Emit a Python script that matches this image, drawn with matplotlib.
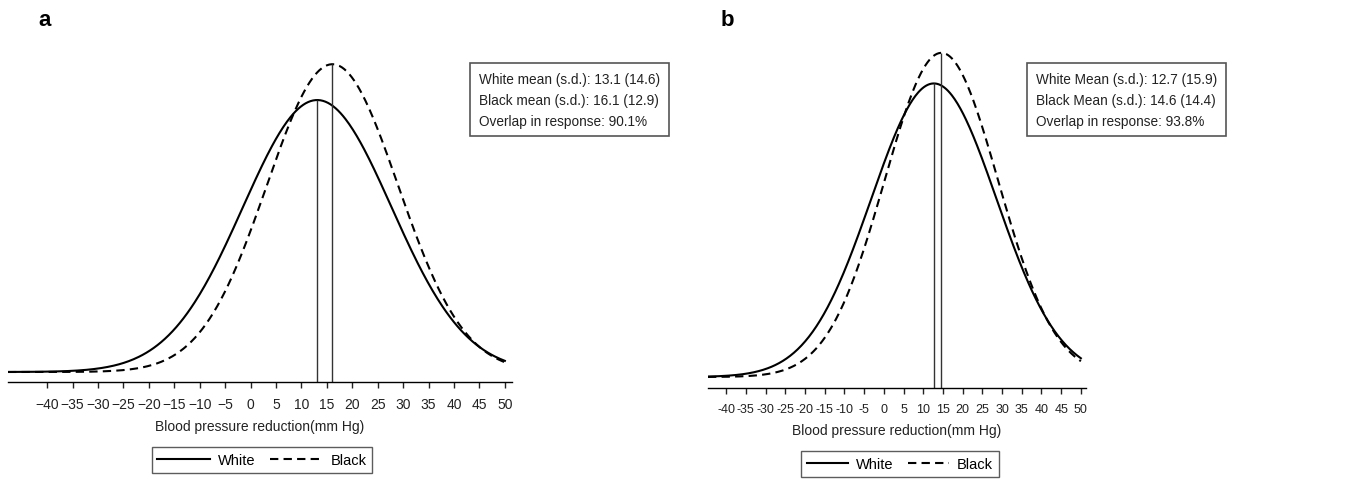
import numpy as np
import matplotlib.pyplot as plt
from matplotlib.lines import Line2D

plt.rcParams['font.family'] = ['Liberation Sans', 'DejaVu Sans']

# values printed on the chart
panel_labels = ["a", "b"]
white_mean = [13.1, 12.7]
white_sd = [14.6, 15.9]
black_mean = [16.1, 14.6]
black_sd = [12.9, 14.4]
overlap = [90.1, 93.8]
mean_word = ["mean", "Mean"]
tick_values = list(range(-40, 55, 5))
x_end = 50

W, H = 1360, 481
fig = plt.figure(figsize=(W / 100, H / 100), dpi=100)

# pixel layout per panel: axes box (left, top, right, bottom), xlim, curve baseline px, px per density unit
layout = [
    dict(box=(8, 30, 512, 383), xlim=(-47.7, 51.4), base=373, scale=9953, minus="\u2212",
         tbox=(479, 73), leg=(262, 461), lab=(38, 21), tpad=7, lpad=5.5, hlen=3.6, tsize=10),
    dict(box=(708, 30, 1086, 389), xlim=(-44.6, 51.3), base=378, scale=11700, minus="-",
         tbox=(1036, 73), leg=(900, 465), lab=(721, 21), tpad=7, lpad=5.5, hlen=2.8, tsize=9),
]


def normal_pdf(x, mu, sd):
    return np.exp(-0.5 * ((x - mu) / sd) ** 2) / (sd * np.sqrt(2 * np.pi))


for i, lay in enumerate(layout):
    l, t, r, b = lay["box"]
    ax = fig.add_axes([l / W, 1 - b / H, (r - l) / W, (b - t) / H])
    ymin = -(b - lay["base"]) / lay["scale"]
    ymax = ymin + (b - t) / lay["scale"]
    ax.set_xlim(*lay["xlim"])
    ax.set_ylim(ymin, ymax)

    x = np.linspace(lay["xlim"][0], x_end, 400)
    ax.plot(x, normal_pdf(x, white_mean[i], white_sd[i]), color="black", lw=1.5)
    ax.plot(x, normal_pdf(x, black_mean[i], black_sd[i]), color="black", lw=1.5,
            ls=(0, (4, 2.5)))
    # mean markers
    ax.vlines(white_mean[i], ymin, normal_pdf(white_mean[i], white_mean[i], white_sd[i]),
              color="#333333", lw=1)
    ax.vlines(black_mean[i], ymin, normal_pdf(black_mean[i], black_mean[i], black_sd[i]),
              color="#333333", lw=1)

    for s in ["left", "right", "top"]:
        ax.spines[s].set_visible(False)
    ax.spines["bottom"].set_linewidth(1)
    ax.set_yticks([])
    ax.set_xticks(tick_values)
    ax.set_xticklabels([str(v).replace("-", lay["minus"]) for v in tick_values])
    ax.tick_params(axis="x", direction="out", length=4, width=1, pad=lay["tpad"],
                   labelsize=lay["tsize"], colors="#222222")
    ax.set_xlabel("Blood pressure reduction(mm Hg)", fontsize=10, labelpad=lay["lpad"],
                  color="#222222")

    txt = (f"White {mean_word[i]} (s.d.): {white_mean[i]} ({white_sd[i]})\n"
           f"Black {mean_word[i]} (s.d.): {black_mean[i]} ({black_sd[i]})\n"
           f"Overlap in response: {overlap[i]}%")
    fig.text(lay["tbox"][0] / W, 1 - lay["tbox"][1] / H, txt, fontsize=9.8, va="top",
             ha="left", linespacing=1.62, color="#222222",
             bbox=dict(boxstyle="square,pad=0.65", fc="white", ec="#555555", lw=1.2))

    handles = [Line2D([], [], color="black", lw=1.5),
               Line2D([], [], color="black", lw=1.5, ls=(0, (4, 2.5)))]
    fig.legend(handles, ["White", "Black"], loc="center",
               bbox_to_anchor=(lay["leg"][0] / W, 1 - lay["leg"][1] / H),
               ncol=2, prop=dict(size=10.5), frameon=True, fancybox=False,
               edgecolor="#333333", handlelength=lay["hlen"], columnspacing=1.0,
               handletextpad=0.55, borderpad=0.4, borderaxespad=0)

    fig.text(lay["lab"][0] / W, 1 - lay["lab"][1] / H, panel_labels[i], fontsize=16,
             fontweight="bold", va="center", ha="left")

fig.savefig("out.png", dpi=100)
